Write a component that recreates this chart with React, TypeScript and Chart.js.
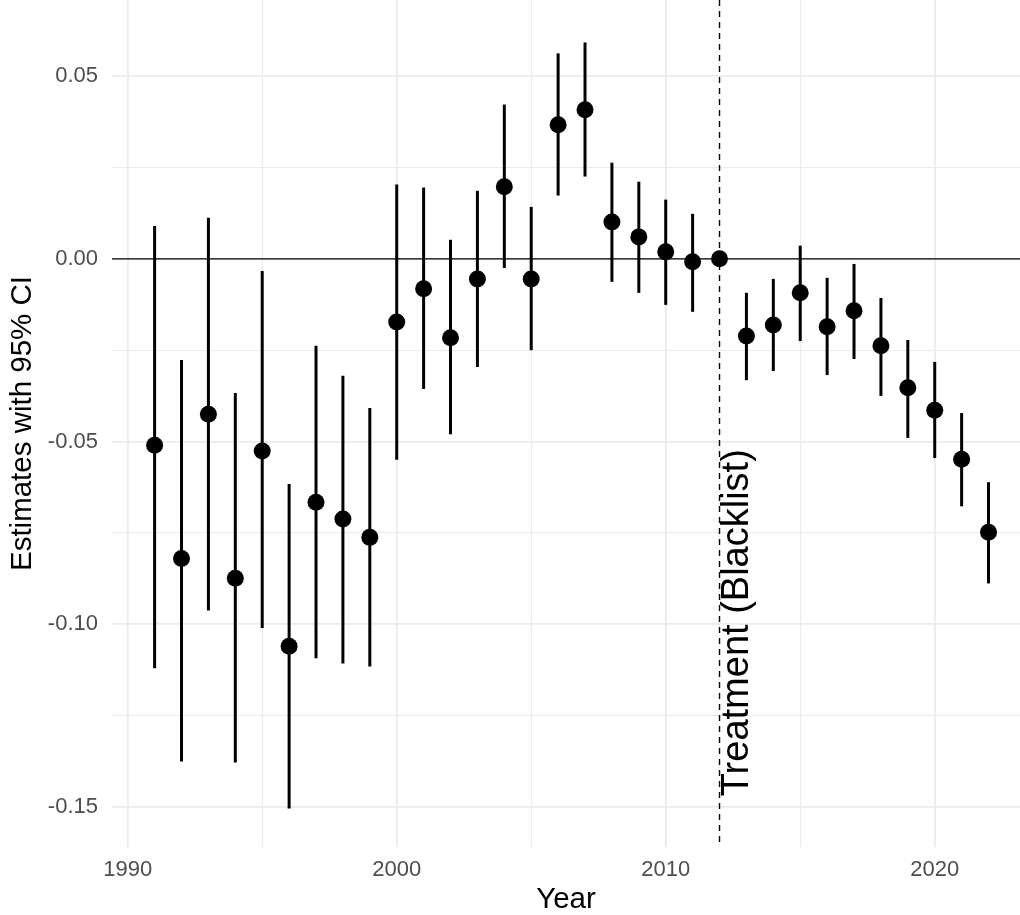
import React, { useEffect, useRef } from "react";
import { Chart, registerables } from "chart.js";

Chart.register(...registerables);

const years = [
  1991, 1992, 1993, 1994, 1995, 1996, 1997, 1998, 1999, 2000, 2001, 2002, 2003, 2004, 2005, 2006,
  2007, 2008, 2009, 2010, 2011, 2012, 2013, 2014, 2015, 2016, 2017, 2018, 2019, 2020, 2021, 2022,
];
const estimates = [
  -0.051, -0.082, -0.0425, -0.0874, -0.0526, -0.106, -0.0666, -0.0712, -0.0762, -0.0173, -0.0082,
  -0.0216, -0.0055, 0.0197, -0.0055, 0.0367, 0.0408, 0.0101, 0.006, 0.0019, -0.0008, 0, -0.0211,
  -0.0181, -0.0093, -0.0186, -0.0142, -0.0238, -0.0353, -0.0414, -0.0548, -0.0748,
];
const upper = [
  0.009, -0.0277, 0.0112, -0.0367, -0.0033, -0.0616, -0.0238, -0.032, -0.0408, 0.0203, 0.0195,
  0.0052, 0.0186, 0.0422, 0.0142, 0.0562, 0.0592, 0.0263, 0.0211, 0.0162, 0.0123, 0, -0.0093,
  -0.0055, 0.0036, -0.0052, -0.0014, -0.0107, -0.0222, -0.0282, -0.0422, -0.0611,
];
const lower = [
  -0.112, -0.1375, -0.0962, -0.1378, -0.101, -0.1504, -0.1093, -0.1107, -0.1115, -0.055, -0.0356,
  -0.048, -0.0296, -0.0025, -0.025, 0.0173, 0.0225, -0.0063, -0.0093, -0.0126, -0.0145, 0, -0.0332,
  -0.0307, -0.0225, -0.0318, -0.0274, -0.0375, -0.049, -0.0545, -0.0677, -0.0888,
];
const xTicks = [1990, 1995, 2000, 2005, 2010, 2015, 2020];
const yTicks = [-0.15, -0.125, -0.1, -0.075, -0.05, -0.025, 0, 0.025, 0.05];
const treatmentYear = 2012;
const treatmentLabel = "Treatment (Blacklist)";
const treatmentLabelStart = -0.147;
const xTitle = "Year";
const yTitle = "Estimates with 95% CI";

const FONT = "'Liberation Sans', Arial, sans-serif";

const isMajorY = (v: number) => Math.abs(Math.round(v * 1000)) % 50 === 0;
const isMajorX = (v: number) => Math.round(v) % 10 === 0;

const overlayPlugin = {
  id: "overlay",
  beforeDatasetsDraw(chart: any) {
    const { ctx, chartArea, scales } = chart;
    const xs = scales.x;
    const ys = scales.y;
    ctx.save();
    const y0 = ys.getPixelForValue(0);
    ctx.strokeStyle = "#000000";
    ctx.lineWidth = 1.3;
    ctx.beginPath();
    ctx.moveTo(chartArea.left, y0);
    ctx.lineTo(chartArea.right, y0);
    ctx.stroke();
    const xt = xs.getPixelForValue(treatmentYear);
    ctx.setLineDash([6, 5]);
    ctx.lineWidth = 1.4;
    ctx.beginPath();
    ctx.moveTo(xt, chartArea.top);
    ctx.lineTo(xt, chartArea.bottom);
    ctx.stroke();
    ctx.setLineDash([]);
    ctx.lineWidth = 3;
    ctx.lineCap = "butt";
    for (let i = 0; i < years.length; i++) {
      const x = xs.getPixelForValue(years[i]);
      const a = ys.getPixelForValue(lower[i]);
      const b = ys.getPixelForValue(upper[i]);
      if (Math.abs(a - b) < 0.5) continue;
      ctx.beginPath();
      ctx.moveTo(x, a);
      ctx.lineTo(x, b);
      ctx.stroke();
    }
    ctx.restore();
  },
  afterDatasetsDraw(chart: any) {
    const { ctx, scales } = chart;
    const xt = scales.x.getPixelForValue(treatmentYear);
    const ys = scales.y.getPixelForValue(treatmentLabelStart);
    ctx.save();
    ctx.translate(xt + 18, ys);
    ctx.rotate(-Math.PI / 2);
    ctx.fillStyle = "#000000";
    ctx.font = `38px ${FONT}`;
    ctx.textAlign = "left";
    ctx.textBaseline = "middle";
    ctx.fillText(treatmentLabel, 0, 0);
    ctx.restore();
  },
};

export default function App() {
  const ref = useRef<HTMLCanvasElement>(null);
  useEffect(() => {
    document.body.style.margin = "0";
    const canvas = ref.current!;
    const chart = new Chart(canvas, {
      type: "scatter",
      data: {
        datasets: [
          {
            data: years.map((y, i) => ({ x: y, y: estimates[i] })),
            backgroundColor: "#000000",
            borderColor: "#000000",
            pointRadius: 8.5,
            pointBorderWidth: 0,
          },
        ],
      },
      options: {
        animation: false,
        responsive: false,
        devicePixelRatio: 1,
        layout: { padding: 0, autoPadding: false },
        plugins: { legend: { display: false }, tooltip: { enabled: false } },
        scales: {
          x: {
            type: "linear",
            min: 1989.416,
            max: 2023.17,
            afterBuildTicks: (s: any) => {
              s.ticks = xTicks.map((v) => ({ value: v }));
            },
            afterFit: (s: any) => {
              s.height = 68;
              s.paddingLeft = 0;
              s.paddingRight = 0;
              s.paddingTop = 0;
              s.paddingBottom = 0;
            },
            border: { display: false },
            grid: {
              color: "#ebebeb",
              lineWidth: (c: any) => (isMajorX(c.tick.value) ? 1.8 : 1.1),
              drawTicks: false,
            },
            ticks: {
              autoSkip: false,
              maxRotation: 0,
              padding: 10,
              color: "#4d4d4d",
              font: { family: FONT, size: 22 },
              callback: (v: any) => (isMajorX(Number(v)) ? String(v) : ""),
            },
            title: {
              display: true,
              text: xTitle,
              color: "#000000",
              font: { family: FONT, size: 29.5, lineHeight: 1 },
              padding: { top: 0, bottom: 0 },
            },
          },
          y: {
            type: "linear",
            min: -0.1609,
            max: 0.0708,
            afterBuildTicks: (s: any) => {
              s.ticks = yTicks.map((v) => ({ value: v }));
            },
            afterFit: (s: any) => {
              s.width = 112;
              s.paddingLeft = 0;
              s.paddingRight = 0;
              s.paddingTop = 0;
              s.paddingBottom = 0;
            },
            border: { display: false },
            grid: {
              color: "#ebebeb",
              lineWidth: (c: any) => (isMajorY(c.tick.value) ? 1.8 : 1.1),
              drawTicks: false,
            },
            ticks: {
              autoSkip: false,
              padding: 14,
              color: "#4d4d4d",
              font: { family: FONT, size: 22 },
              callback: (v: any) => (isMajorY(Number(v)) ? Number(v).toFixed(2) : ""),
            },
            title: {
              display: true,
              text: yTitle,
              color: "#000000",
              font: { family: FONT, size: 29.5, lineHeight: 1 },
              padding: { top: 8, bottom: 0 },
            },
          },
        },
      },
      plugins: [overlayPlugin],
    });
    return () => chart.destroy();
  }, []);
  return <canvas ref={ref} width={1020} height={915} style={{ display: "block" }} />;
}
